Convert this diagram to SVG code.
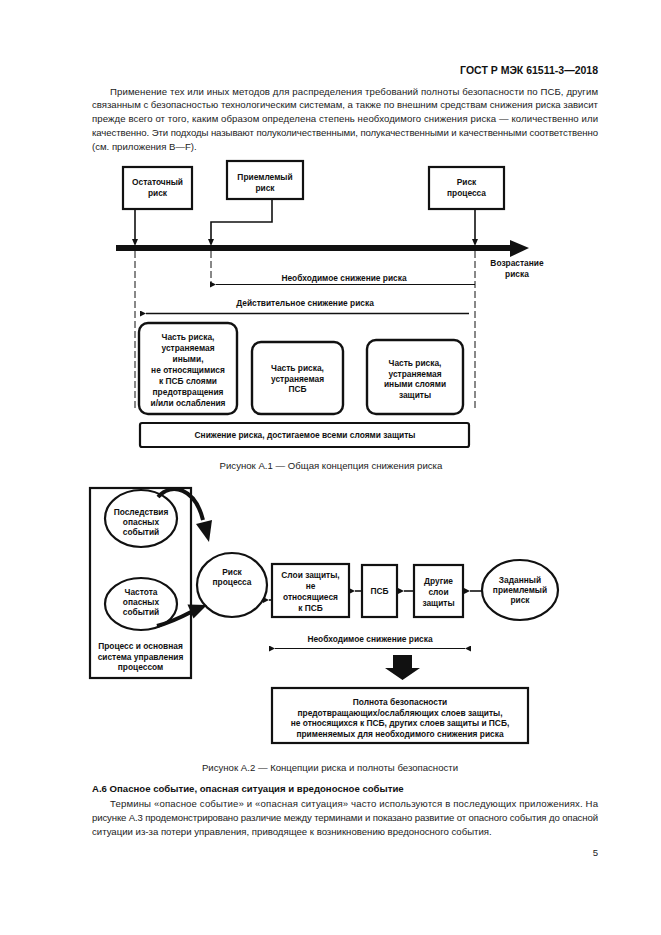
<svg xmlns="http://www.w3.org/2000/svg" width="661" height="935" viewBox="0 0 661 935">
<style>
  .body{font-family:"Liberation Sans",Arial,sans-serif;font-size:9.6px;fill:#222}
  .hdr{font-family:"Liberation Sans",Arial,sans-serif;font-size:10.5px;font-weight:bold;fill:#111}
  .bh{font-family:"Liberation Sans",Arial,sans-serif;font-size:9.6px;font-weight:bold;fill:#111}
  .lbl{font-family:"Liberation Sans",Arial,sans-serif;font-size:8.4px;font-weight:bold;fill:#111;text-anchor:middle}
  .box{fill:#fff;stroke:#111;stroke-width:2.2}
  .rbox{fill:#fff;stroke:#111;stroke-width:2.4}
  .ln{fill:none;stroke:#111;stroke-width:1.6}
  .thin{fill:none;stroke:#111;stroke-width:1}
  .dash{fill:none;stroke:#111;stroke-width:1;stroke-dasharray:7 3}
  .head{fill:#111}
</style>
<defs>
  <marker id="ahl" viewBox="0 0 10 10" refX="0" refY="5" markerWidth="6" markerHeight="6" markerUnits="userSpaceOnUse" orient="auto-start-reverse">
    <path d="M0,5 L10,0 L10,10 Z" fill="#111"/>
  </marker>
  <marker id="ahb" viewBox="0 0 10 10" refX="0" refY="5" markerWidth="4" markerHeight="4" orient="auto-start-reverse">
    <path d="M0,5 L10,0 L10,10 Z" fill="#111"/>
  </marker>
</defs>
<rect width="661" height="935" fill="#fff"/>

<!-- page text -->
<text class="hdr" x="598" y="73.5" text-anchor="end">ГОСТ Р МЭК 61511-3—2018</text>
<text class="body" x="110" y="94.5" textLength="488" lengthAdjust="spacing">Применение тех или иных методов для распределения требований полноты безопасности по ПСБ, другим</text>
<text class="body" x="92" y="108.3" textLength="506" lengthAdjust="spacing">связанным с безопасностью технологическим системам, а также по внешним средствам снижения риска зависит</text>
<text class="body" x="92" y="122.1" textLength="506" lengthAdjust="spacing">прежде всего от того, каким образом определена степень необходимого снижения риска — количественно или</text>
<text class="body" x="92" y="135.9" textLength="506" lengthAdjust="spacing">качественно. Эти подходы называют полуколичественными, полукачественными и качественными соответственно</text>
<text class="body" x="92" y="149.7">(см. приложения B—F).</text>

<!-- Figure A.1 -->
<g id="fig1-connectors">
  <rect x="116" y="245" width="396" height="6" fill="#111"/>
  <path class="head" d="M510,240 L529,248 L510,257 Z"/>
  <path class="ln" d="M135,209 V241"/>
  <path class="head" d="M132,239 L138,239 L135,246 Z"/>
  <path class="ln" d="M272,199 V222 H211 V241"/>
  <path class="head" d="M208,239 L214,239 L211,246 Z"/>
  <path class="ln" d="M475,209 V241"/>
  <path class="head" d="M472,239 L478,239 L475,246 Z"/>
  <path class="dash" d="M135,251 V411"/>
  <path class="dash" d="M211,251 V286"/>
  <path class="dash" d="M475,251 V411"/>
  <path class="thin" d="M475,284.5 H216" marker-end="url(#ahl)"/>
  <path class="ln" d="M469,313.5 H146" stroke-width="2.2" marker-end="url(#ahl)"/>
</g>
<g id="n-ostatochny">
  <rect class="box" x="123" y="167" width="69" height="42"/>
  <text class="lbl" x="157.5" y="185">Остаточный</text>
  <text class="lbl" x="157.5" y="196">риск</text>
</g>
<g id="n-priemlemy">
  <rect class="box" x="227" y="161" width="76" height="38"/>
  <text class="lbl" x="265" y="180">Приемлемый</text>
  <text class="lbl" x="265" y="191">риск</text>
</g>
<g id="n-risk-process">
  <rect class="box" x="429" y="167" width="75" height="42"/>
  <text class="lbl" x="466.5" y="185">Риск</text>
  <text class="lbl" x="466.5" y="196">процесса</text>
</g>
<g id="l-vozrastanie">
  <text class="lbl" x="517" y="266">Возрастание</text>
  <text class="lbl" x="517" y="277">риска</text>
</g>
<g id="l-neobhodimoe1">
  <text class="lbl" x="344" y="281">Необходимое снижение риска</text>
</g>
<g id="l-deistvitelnoe">
  <text class="lbl" x="305" y="306">Действительное снижение риска</text>
</g>
<g id="n-part-other">
  <rect class="rbox" x="139" y="323" width="98" height="91" rx="9"/>
  <text class="lbl" x="188" y="340">Часть риска,</text>
  <text class="lbl" x="188" y="351">устраняемая</text>
  <text class="lbl" x="188" y="362">иными,</text>
  <text class="lbl" x="188" y="373">не относящимися</text>
  <text class="lbl" x="188" y="384">к ПСБ слоями</text>
  <text class="lbl" x="188" y="395">предотвращения</text>
  <text class="lbl" x="188" y="405.5">и/или ослабления</text>
</g>
<g id="n-part-psb">
  <rect class="rbox" x="252" y="342" width="91" height="72" rx="9"/>
  <text class="lbl" x="297.5" y="371">Часть риска,</text>
  <text class="lbl" x="297.5" y="381.5">устраняемая</text>
  <text class="lbl" x="297.5" y="392">ПСБ</text>
</g>
<g id="n-part-layers">
  <rect class="rbox" x="367" y="340" width="96" height="74" rx="9"/>
  <text class="lbl" x="415" y="366">Часть риска,</text>
  <text class="lbl" x="415" y="376.5">устраняемая</text>
  <text class="lbl" x="415" y="387">иными слоями</text>
  <text class="lbl" x="415" y="397.5">защиты</text>
</g>
<g id="n-snizhenie-all">
  <rect class="box" x="140" y="423" width="329" height="24" rx="2"/>
  <text class="lbl" x="305" y="438">Снижение риска, достигаемое всеми слоями защиты</text>
</g>
<text class="body" x="331" y="469" text-anchor="middle">Рисунок А.1 — Общая концепция снижения риска</text>

<!-- Figure A.2 -->
<g id="n-process-system">
  <rect class="box" x="90" y="488" width="101" height="190"/>
  <text class="lbl" x="140.5" y="649">Процесс и основная</text>
  <text class="lbl" x="140.5" y="659.5">система управления</text>
  <text class="lbl" x="140.5" y="670">процессом</text>
</g>
<g id="n-posledstviya">
  <ellipse class="box" cx="141" cy="518.5" rx="36" ry="28.5"/>
  <text class="lbl" x="141" y="515">Последствия</text>
  <text class="lbl" x="141" y="525">опасных</text>
  <text class="lbl" x="141" y="535">событий</text>
</g>
<g id="n-chastota">
  <ellipse class="box" cx="141" cy="604" rx="36" ry="26"/>
  <text class="lbl" x="141" y="595">Частота</text>
  <text class="lbl" x="141" y="605">опасных</text>
  <text class="lbl" x="141" y="615">событий</text>
</g>
<g id="n-risk-process2">
  <ellipse class="box" cx="232" cy="585" rx="35" ry="32"/>
  <text class="lbl" x="232" y="575">Риск</text>
  <text class="lbl" x="232" y="585">процесса</text>
</g>
<g id="n-layers-nonpsb">
  <rect class="box" x="272" y="564" width="77" height="53"/>
  <text class="lbl" x="310.5" y="578">Слои защиты,</text>
  <text class="lbl" x="310.5" y="589">не</text>
  <text class="lbl" x="310.5" y="600">относящиеся</text>
  <text class="lbl" x="310.5" y="611">к ПСБ</text>
</g>
<g id="n-psb">
  <rect class="box" x="362" y="565" width="35" height="52"/>
  <text class="lbl" x="379.5" y="594">ПСБ</text>
</g>
<g id="n-other-layers">
  <rect class="box" x="414" y="565" width="49" height="52"/>
  <text class="lbl" x="438.5" y="584">Другие</text>
  <text class="lbl" x="438.5" y="595">слои</text>
  <text class="lbl" x="438.5" y="606">защиты</text>
</g>
<g id="n-target-risk">
  <ellipse class="box" cx="520" cy="590" rx="38" ry="30"/>
  <text class="lbl" x="520" y="583">Заданный</text>
  <text class="lbl" x="520" y="593">приемлемый</text>
  <text class="lbl" x="520" y="603">риск</text>
</g>
<g id="fig2-connectors">
  <path fill="none" stroke="#111" stroke-width="4" d="M158,497 C172,482 195,488 203,520"/>
  <path class="head" d="M196,524 L212,520 L209,542 Z"/>
  <path fill="none" stroke="#111" stroke-width="4" d="M157,626 Q172,622 191,612"/>
  <path class="head" d="M187.5,604.5 L193.5,618.5 L207,605 Z"/>
  <path class="ln" d="M272,600 H269" marker-end="url(#ahl)"/>
  <path class="ln" d="M362,591 H355" marker-end="url(#ahl)"/>
  <path class="ln" d="M414,591 H404" marker-end="url(#ahl)"/>
  <path class="ln" d="M482,591 H470" marker-end="url(#ahl)"/>
  <path class="thin" d="M275,648.5 H465" marker-start="url(#ahl)" marker-end="url(#ahl)"/>
  <path class="head" d="M393,655 H412 V668 H420 L402.5,680 L385,668 H393 Z"/>
</g>
<g id="l-neobhodimoe2">
  <text class="lbl" x="370" y="642">Необходимое снижение риска</text>
</g>
<g id="n-polnota">
  <rect class="box" x="272" y="688" width="256" height="55"/>
  <text class="lbl" x="400" y="705">Полнота безопасности</text>
  <text class="lbl" x="400" y="715.5">предотвращающих/ослабляющих слоев защиты,</text>
  <text class="lbl" x="400" y="726">не относящихся к ПСБ, других слоев защиты и ПСБ,</text>
  <text class="lbl" x="400" y="736.5">применяемых для необходимого снижения риска</text>
</g>
<text class="body" x="330" y="771" text-anchor="middle">Рисунок А.2 — Концепции риска и полноты безопасности</text>

<text class="bh" x="92" y="792">А.6 Опасное событие, опасная ситуация и вредоносное событие</text>
<text class="body" x="110" y="807" textLength="488" lengthAdjust="spacing">Термины «опасное событие» и «опасная ситуация» часто используются в последующих приложениях. На</text>
<text class="body" x="92" y="821" textLength="506" lengthAdjust="spacing">рисунке А.3 продемонстрировано различие между терминами и показано развитие от опасного события до опасной</text>
<text class="body" x="92" y="835">ситуации из-за потери управления, приводящее к возникновению вредоносного события.</text>
<text class="body" x="598" y="856" text-anchor="end">5</text>
</svg>
